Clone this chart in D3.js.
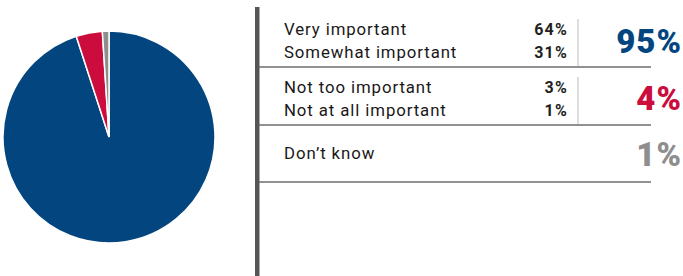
<!DOCTYPE html>
<html>
<head>
<meta charset="utf-8">
<script src="https://cdn.jsdelivr.net/npm/d3@7"></script>
<style>
  body { margin: 0; background: #fff; }
  svg { display: block; font-family: Roboto, "DejaVu Sans", sans-serif; }
</style>
</head>
<body>
<div id="chart"></div>
<script>
'use strict';

// pie slices (clockwise from top)
const sliceNames = ["Important", "Not important", "Don't know"];
const sliceValues = [95, 4, 1];
const sliceColors = ["#03467f", "#cc0c3c", "#8e8e8e"];

// table rows
const rowLabels = ["Very important", "Somewhat important", "Not too important", "Not at all important", "Don\u2019t know"];
const rowValues = ["64%", "31%", "3%", "1%", ""];
const rowGroup = [0, 0, 1, 1, 2];

// group totals
const groupTotals = ["95%", "4%", "1%"];

(function() {
  const svg = d3.select('#chart')
    .append('svg')
    .attr('width', 683)
    .attr('height', 276);

  // ---- pie ----
  const pie = d3.pie().sort(null).value(d => d);
  const arc = d3.arc().innerRadius(0).outerRadius(106);

  svg.append('g')
    .attr('transform', 'translate(109, 137)')
    .selectAll('path')
    .data(pie(sliceValues))
    .enter()
    .append('path')
      .attr('d', arc)
      .style('fill', (d, i) => sliceColors[i])
      .style('stroke', '#fff')
      .style('stroke-width', 1.5);

  // ---- table ----
  // vertical dark bar
  svg.append('rect')
    .attr('x', 255)
    .attr('y', 7)
    .attr('width', 4.5)
    .attr('height', 269)
    .style('fill', '#555');

  const rowBaseline = [35, 58, 93, 116, 159];
  rowLabels.forEach((label, i) => {
    svg.append('text')
      .attr('x', 284)
      .attr('y', rowBaseline[i])
      .style('font-size', '16.8px')
      .style('letter-spacing', '0.9px')
      .style('fill', '#1a1718')
      .text(label);
    if (rowValues[i] !== "") {
      svg.append('text')
        .attr('x', 568)
        .attr('y', rowBaseline[i])
        .attr('text-anchor', 'end')
        .style('font-size', '16px')
        .style('letter-spacing', '1.2px')
        .style('font-weight', 'bold')
        .style('fill', '#231f20')
        .text(rowValues[i]);
    }
  });

  // horizontal separators under each group
  const sepY = [67, 125, 182];
  sepY.forEach(y => {
    svg.append('line')
      .attr('x1', 259)
      .attr('x2', 651)
      .attr('y1', y)
      .attr('y2', y)
      .style('stroke', '#6d6d6d')
      .style('stroke-width', 1.5);
  });

  // thin vertical separators between values and totals
  [[19, 66], [77, 124]].forEach(span => {
    svg.append('line')
      .attr('x1', 578)
      .attr('x2', 578)
      .attr('y1', span[0])
      .attr('y2', span[1])
      .style('stroke', '#bdbdbd')
      .style('stroke-width', 1);
  });

  // big totals
  const totalBaseline = [53, 110, 166];
  groupTotals.forEach((t, i) => {
    svg.append('text')
      .attr('x', 682)
      .attr('y', totalBaseline[i])
      .attr('text-anchor', 'end')
      .style('font-size', '33px')
      .style('font-weight', '900')
      .style('letter-spacing', '1px')
      .style('fill', sliceColors[i])
      .text(t);
  });
})();
</script>
</body>
</html>
